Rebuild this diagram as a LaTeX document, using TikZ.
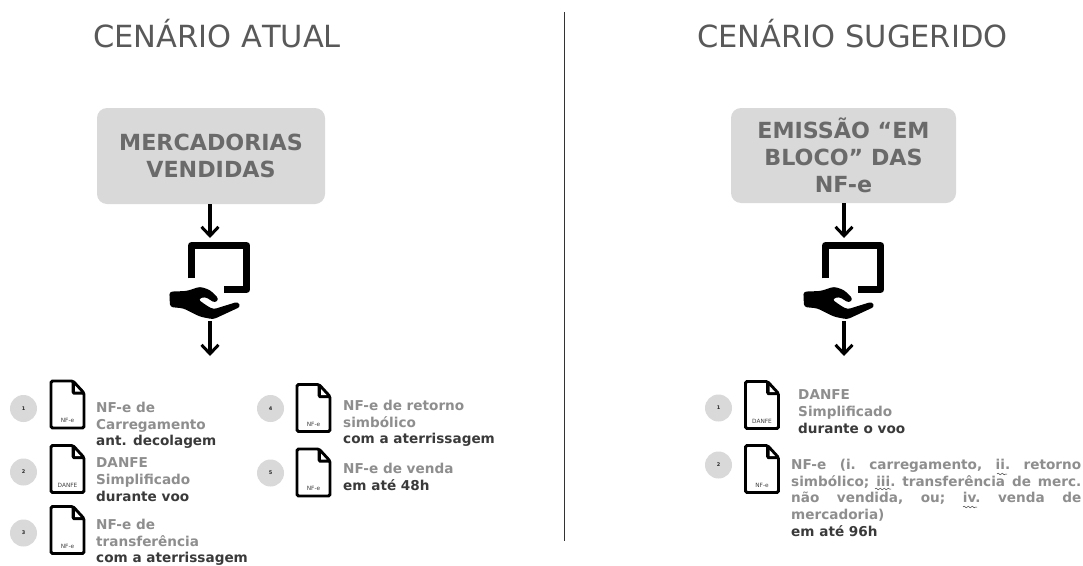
\documentclass[tikz,border=0pt]{standalone}
\usepackage{fontspec}
\setmainfont{DejaVu Sans}
\newfontfamily\titlefont[Kerning=Off]{DejaVu Sans}
\usetikzlibrary{arrows.meta,decorations.pathmorphing}
\definecolor{boxgray}{HTML}{D9D9D9}
\definecolor{txtgray}{HTML}{8E8E8E}
\definecolor{txtdark}{HTML}{3A3A3A}
\definecolor{boxtxt}{HTML}{6A6A6A}
\tikzset{
  x=1pt,y=-1pt,
  titletext/.style={anchor=base west,inner sep=0,font=\titlefont\fontsize{30.5}{30}\selectfont,text=black!65},
  bigbox/.style={fill=boxgray,rounded corners=10pt,inner sep=0,text=boxtxt,align=center,font=\bfseries\fontsize{22.2}{27.3}\selectfont},
  flow/.style={line width=3.2pt,-{Straight Barb[length=9pt,width=17pt,line width=3pt]}},
  bullet/.style={circle,fill=boxgray,minimum size=27pt,inner sep=0,font=\bfseries\fontsize{5}{5}\selectfont,text=black!85},
  itemtext/.style={anchor=north west,inner sep=0,align=left,text=txtgray,font=\bfseries\fontsize{13.6}{16.8}\selectfont},
  squig/.style={draw=txtdark,line width=.5pt,decorate,decoration={snake,amplitude=.8pt,segment length=4pt}},
  pics/docicon/.style={code={
    \draw[line width=2.9pt,rounded corners=1.5pt,black] (0,0) -- (22,0) -- (33,12) -- (33,47) -- (0,47) -- cycle;
    \fill[black,rounded corners=.5pt] (20.5,0) -- (22.5,0) -- (33.5,12) -- (33.5,13.5) -- (22,13.5) -- (20.5,11) -- cycle;
    \fill[white] (24,4.5) -- (29.5,10.5) -- (24,10.5) -- cycle;
    \node[inner sep=0,text=black!75,font=\fontsize{5.8}{5.8}\selectfont] at (16.5,39.5) {#1};
  }},
  pics/handover/.style={code={
    \begin{scope}[x=.3333pt,y=-.3333pt]
      \draw[line width=7.5pt,line join=round] (-55,250) -- (-55,152) -- (110,152) -- (110,283) -- (42,283);
      \fill[black,rounded corners=3pt] (-122,290) -- (-70,288) -- (-30,275) -- (0,285) -- (27,312) -- (15,324) -- (-15,305) -- (-36,313) -- (-10,332) -- (10,343) -- (84,320) -- (92,335) -- (10,373) -- (-30,365) -- (-80,340) -- (-120,336) -- cycle;
    \end{scope}
  }}
}
\begin{document}
\begin{tikzpicture}
\useasboundingbox (0,0) rectangle (1083,565);
\fill[white] (0,0) rectangle (1083,565);
\node[titletext] (t1) at (93,47) {CENÁRIO ATUAL};
\node[titletext] (t2) at (697,47) {CENÁRIO SUGERIDO};
\draw[line width=1pt,black!80] (564,12) -- (564,541);

\node[bigbox,minimum width=228pt,minimum height=96pt] (boxA) at (211,156) {MERCADORIAS\\VENDIDAS};
\node[bigbox,minimum width=225pt,minimum height=95pt] (boxB) at (843.5,155.5) {EMISSÃO “EM\\BLOCO” DAS\\NF-e};

% left flow
\coordinate (a1) at (210,238);
\coordinate (a2s) at (210,321);
\coordinate (a2) at (210,356);
\draw[flow] (boxA.south -| a1) -- (a1);
\pic at (210,195) {handover};
\draw[flow] (a2s) -- (a2);
% right flow
\coordinate (b1) at (844,238);
\coordinate (b2s) at (844,321);
\coordinate (b2) at (844,356);
\draw[flow] (boxB.south -| b1) -- (b1);
\pic at (844,195) {handover};
\draw[flow] (b2s) -- (b2);

% left items
\node[bullet] (n1) at (23.5,408.5) {1};
\node[bullet] (n2) at (23.5,472) {2};
\node[bullet] (n3) at (23.5,533) {3};
\node[bullet] (n4) at (270.5,408.5) {4};
\node[bullet] (n5) at (270.5,473) {5};
\pic at (51,381) {docicon={NF-e}};
\pic at (51,445.5) {docicon={DANFE}};
\pic at (51,506.5) {docicon={NF-e}};
\pic at (297,384.5) {docicon={NF-e}};
\pic at (297,449) {docicon={NF-e}};
\node[itemtext] (i1) at (96,401.7) {NF-e de\\Carregamento\\\textcolor{txtdark}{ant. decolagem}};
\node[itemtext] (i2) at (96,457.7) {DANFE\\Simplificado\\\textcolor{txtdark}{durante voo}};
\node[itemtext] (i3) at (96,518.7) {NF-e de\\transferência\\\textcolor{txtdark}{com a aterrissagem}};
\node[itemtext] (i4) at (343,399.7) {NF-e de retorno\\simbólico\\\textcolor{txtdark}{com a aterrissagem}};
\node[itemtext] (i5) at (343,462.7) {NF-e de venda\\\textcolor{txtdark}{em até 48h}};

% right items
\node[bullet] (m1) at (718.5,408) {1};
\node[bullet] (m2) at (718.5,465) {2};
\pic at (745.5,381.5) {docicon={DANFE}};
\pic at (745.5,445.5) {docicon={NF-e}};
\node[itemtext] (j1) at (798,389.7) {DANFE\\Simplificado\\\textcolor{txtdark}{durante o voo}};
\node[itemtext] (j2) at (791,458.7) {\makebox[290pt][s]{NF-e\hfill(i.\hfill carregamento,\hfill ii.\hfill retorno}\\\makebox[290pt][s]{simbólico;\hfill iii.\hfill transferência\hfill de\hfill merc.}\\\makebox[290pt][s]{não\hfill vendida,\hfill ou;\hfill iv.\hfill venda\hfill de}\\mercadoria)\\\textcolor{txtdark}{em até 96h}};
\path[squig] (997,474) -- (1007,474);
\path[squig] (875,489) -- (891,489);
\path[squig] (963,507) -- (977,507);
\end{tikzpicture}
\end{document}
